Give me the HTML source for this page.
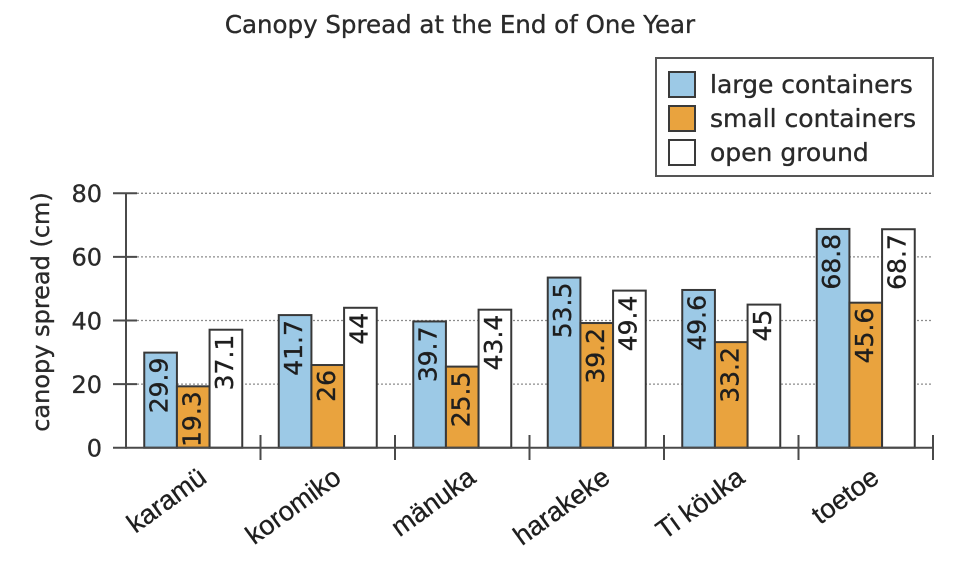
<!DOCTYPE html>
<html>
<head>
<meta charset="utf-8">
<style>
  html, body { margin: 0; padding: 0; background: #ffffff; }
  svg { display: block; }
  .dj { font-family: "DejaVu Sans", "Liberation Sans", sans-serif; }
  .lb { font-family: "Liberation Sans", "DejaVu Sans", sans-serif; }
</style>
</head>
<body>
<svg width="966" height="562" viewBox="0 0 966 562" xmlns="http://www.w3.org/2000/svg">
  <rect x="0" y="0" width="966" height="562" fill="#ffffff"/>

  <!-- Title -->
  <text class="dj" x="460" y="33" font-size="24.5" fill="#2a2a2a" stroke="#2a2a2a" stroke-width="0.35" text-anchor="middle">Canopy Spread at the End of One Year</text>

  <!-- Legend -->
  <rect x="656" y="58" width="277" height="118" fill="#ffffff" stroke="#555" stroke-width="2"/>
  <rect x="669" y="72" width="26" height="25" fill="#9cc9e6" stroke="#3a3a3a" stroke-width="2"/>
  <rect x="669" y="106" width="26" height="25" fill="#e9a33e" stroke="#3a3a3a" stroke-width="2"/>
  <rect x="669" y="140" width="26" height="25" fill="#ffffff" stroke="#3a3a3a" stroke-width="2"/>
  <g class="dj" font-size="25" fill="#2a2a2a" stroke="#2a2a2a" stroke-width="0.35">
    <text x="710" y="93">large containers</text>
    <text x="710" y="127">small containers</text>
    <text x="710" y="161">open ground</text>
  </g>

  <!-- Gridlines -->
  <g stroke="#8c8c8c" stroke-width="1.3" stroke-dasharray="2,2">
    <line x1="137" y1="384.1" x2="933" y2="384.1"/>
    <line x1="137" y1="320.5" x2="933" y2="320.5"/>
    <line x1="137" y1="256.9" x2="933" y2="256.9"/>
    <line x1="137" y1="193.3" x2="933" y2="193.3"/>
  </g>

  <!-- Y axis label -->
  <text class="dj" transform="translate(49,312) rotate(-90)" font-size="24" fill="#2a2a2a" stroke="#2a2a2a" stroke-width="0.35" text-anchor="middle">canopy spread (cm)</text>

  <!-- Y tick labels -->
  <g class="dj" font-size="24" fill="#2a2a2a" stroke="#2a2a2a" stroke-width="0.35" text-anchor="end">
    <text x="102" y="456.5">0</text>
    <text x="102" y="392.9">20</text>
    <text x="102" y="329.3">40</text>
    <text x="102" y="265.7">60</text>
    <text x="102" y="202.1">80</text>
  </g>

  <!-- Bars -->
  <g stroke="#383838" stroke-width="2">
    <rect x="144.25" y="352.62" width="32.67" height="95.08" fill="#9cc9e6"/>
    <rect x="176.92" y="386.33" width="32.67" height="61.37" fill="#e9a33e"/>
    <rect x="209.58" y="329.72" width="32.67" height="117.98" fill="#ffffff"/>
    <rect x="278.75" y="315.09" width="32.67" height="132.61" fill="#9cc9e6"/>
    <rect x="311.42" y="365.02" width="32.67" height="82.68" fill="#e9a33e"/>
    <rect x="344.08" y="307.78" width="32.67" height="139.92" fill="#ffffff"/>
    <rect x="413.25" y="321.45" width="32.67" height="126.25" fill="#9cc9e6"/>
    <rect x="445.92" y="366.61" width="32.67" height="81.09" fill="#e9a33e"/>
    <rect x="478.58" y="309.69" width="32.67" height="138.01" fill="#ffffff"/>
    <rect x="547.75" y="277.57" width="32.67" height="170.13" fill="#9cc9e6"/>
    <rect x="580.42" y="323.04" width="32.67" height="124.66" fill="#e9a33e"/>
    <rect x="613.08" y="290.61" width="32.67" height="157.09" fill="#ffffff"/>
    <rect x="682.25" y="289.97" width="32.67" height="157.73" fill="#9cc9e6"/>
    <rect x="714.92" y="342.12" width="32.67" height="105.58" fill="#e9a33e"/>
    <rect x="747.58" y="304.6" width="32.67" height="143.1" fill="#ffffff"/>
    <rect x="816.75" y="228.92" width="32.67" height="218.78" fill="#9cc9e6"/>
    <rect x="849.42" y="302.69" width="32.67" height="145.01" fill="#e9a33e"/>
    <rect x="882.08" y="229.23" width="32.67" height="218.47" fill="#ffffff"/>
  </g>

  <!-- Value labels -->
  <g class="dj" font-size="25" fill="#1e1e1e" stroke="#1e1e1e" stroke-width="0.35" text-anchor="end">
    <text transform="translate(167.6,357.6) rotate(-90)">29.9</text>
    <text transform="translate(200.25,391.3) rotate(-90)">19.3</text>
    <text transform="translate(232.9,334.7) rotate(-90)">37.1</text>

    <text transform="translate(302.1,320.1) rotate(-90)">41.7</text>
    <text transform="translate(334.75,370.0) rotate(-90)">26</text>
    <text transform="translate(367.4,312.8) rotate(-90)">44</text>

    <text transform="translate(436.6,326.5) rotate(-90)">39.7</text>
    <text transform="translate(469.25,371.6) rotate(-90)">25.5</text>
    <text transform="translate(501.9,314.7) rotate(-90)">43.4</text>

    <text transform="translate(571.1,282.6) rotate(-90)">53.5</text>
    <text transform="translate(603.75,328.0) rotate(-90)">39.2</text>
    <text transform="translate(636.4,295.6) rotate(-90)">49.4</text>

    <text transform="translate(705.6,295.0) rotate(-90)">49.6</text>
    <text transform="translate(738.25,347.1) rotate(-90)">33.2</text>
    <text transform="translate(770.9,309.6) rotate(-90)">45</text>

    <text transform="translate(840.1,233.9) rotate(-90)">68.8</text>
    <text transform="translate(872.75,307.7) rotate(-90)">45.6</text>
    <text transform="translate(905.4,234.2) rotate(-90)">68.7</text>
  </g>

  <!-- Axes -->
  <g stroke="#4a4a4a" stroke-width="2" fill="none">
    <line x1="126" y1="193.3" x2="126" y2="448.7"/>
    <line x1="113" y1="447.7" x2="933" y2="447.7"/>
    <line x1="113" y1="384.1" x2="137" y2="384.1"/>
    <line x1="113" y1="320.5" x2="137" y2="320.5"/>
    <line x1="113" y1="256.9" x2="137" y2="256.9"/>
    <line x1="113" y1="193.3" x2="137" y2="193.3"/>
    <line x1="260.5" y1="435" x2="260.5" y2="460"/>
    <line x1="395" y1="435" x2="395" y2="460"/>
    <line x1="529.5" y1="435" x2="529.5" y2="460"/>
    <line x1="664" y1="435" x2="664" y2="460"/>
    <line x1="798.5" y1="435" x2="798.5" y2="460"/>
    <line x1="933" y1="435" x2="933" y2="460"/>
  </g>

  <!-- Category labels -->
  <g class="lb" font-size="27" fill="#1e1e1e" stroke="#1e1e1e" stroke-width="0.3" text-anchor="end">
    <text transform="translate(208.25,481) rotate(-36)">karamü</text>
    <text transform="translate(342.75,481) rotate(-36)">koromiko</text>
    <text transform="translate(477.25,481) rotate(-36)">mänuka</text>
    <text transform="translate(611.75,481) rotate(-36)">harakeke</text>
    <text transform="translate(746.25,481) rotate(-36)">Ti köuka</text>
    <text transform="translate(880.75,481) rotate(-36)">toetoe</text>
  </g>
</svg>
</body>
</html>
